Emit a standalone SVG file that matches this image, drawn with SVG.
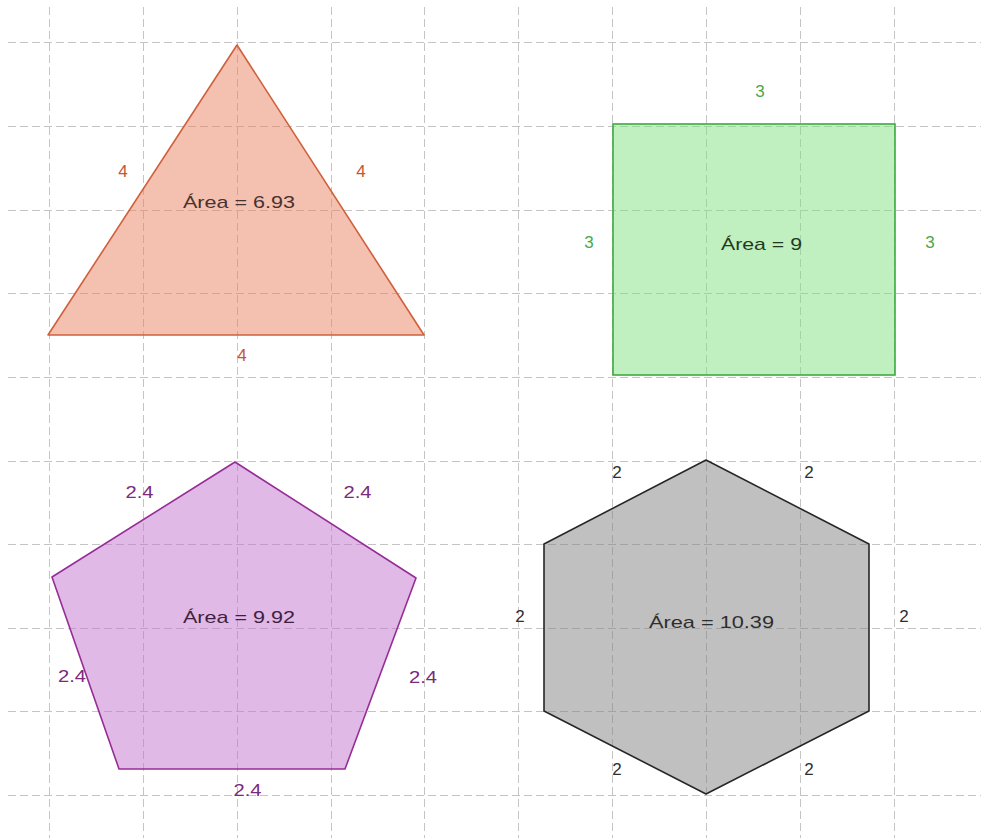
<svg xmlns="http://www.w3.org/2000/svg" width="981" height="838" viewBox="0 0 981 838">
<style>
.grid line{stroke:#c4c4c4;stroke-width:1;stroke-dasharray:8 4}
text{font-family:"Liberation Sans",Arial,sans-serif;font-size:17px;text-anchor:middle}
.tri{fill:#e9815f;fill-opacity:0.5;stroke:#d0603c;stroke-width:1.6;stroke-linejoin:round}
.sq{fill:#81e181;fill-opacity:0.5;stroke:#3faa3f;stroke-width:1.6}
.pen{fill:#c173cd;fill-opacity:0.5;stroke:#962d96;stroke-width:1.6;stroke-linejoin:round}
.hex{fill:#818181;fill-opacity:0.5;stroke:#262626;stroke-width:1.6;stroke-linejoin:round}
.lt{fill:#c8532f}.at{fill:#4a3030}
.ls{fill:#48a848}.as{fill:#1f3a1f}
.lp{fill:#7a2a7a}.ap{fill:#3f1f3f}
.lh{fill:#2e2e2e}.ah{fill:#2e2e2e}
</style>
<rect width="981" height="838" fill="#ffffff"/>
<g id="grid" class="grid">
<line x1="49.5" y1="7" x2="49.5" y2="838"/>
<line x1="143.5" y1="7" x2="143.5" y2="838"/>
<line x1="237.5" y1="7" x2="237.5" y2="838"/>
<line x1="331.5" y1="7" x2="331.5" y2="838"/>
<line x1="424.5" y1="7" x2="424.5" y2="838"/>
<line x1="518.5" y1="7" x2="518.5" y2="838"/>
<line x1="612.5" y1="7" x2="612.5" y2="838"/>
<line x1="706.5" y1="7" x2="706.5" y2="838"/>
<line x1="800.5" y1="7" x2="800.5" y2="838"/>
<line x1="894.5" y1="7" x2="894.5" y2="838"/>
<line x1="8" y1="42.5" x2="981" y2="42.5"/>
<line x1="8" y1="126.5" x2="981" y2="126.5"/>
<line x1="8" y1="210.5" x2="981" y2="210.5"/>
<line x1="8" y1="293.5" x2="981" y2="293.5"/>
<line x1="8" y1="377.5" x2="981" y2="377.5"/>
<line x1="8" y1="461.5" x2="981" y2="461.5"/>
<line x1="8" y1="544.5" x2="981" y2="544.5"/>
<line x1="8" y1="628.5" x2="981" y2="628.5"/>
<line x1="8" y1="711.5" x2="981" y2="711.5"/>
<line x1="8" y1="795.5" x2="981" y2="795.5"/>
</g>
<g id="connectors"></g>
<g id="triangle">
<polygon class="tri" points="237,45 424,335 48,335"/>
<text class="lt" x="123" y="177">4</text>
<text class="lt" x="361" y="177">4</text>
<text class="lt" x="242" y="361">4</text>
<text class="at" x="239" y="208" textLength="112" lengthAdjust="spacingAndGlyphs">Área = 6.93</text>
</g>
<g id="square">
<rect class="sq" x="613" y="124" width="282" height="251"/>
<text class="ls" x="760" y="97">3</text>
<text class="ls" x="589" y="248">3</text>
<text class="ls" x="930" y="248">3</text>
<text class="as" x="761.5" y="250" textLength="81" lengthAdjust="spacingAndGlyphs">Área = 9</text>
</g>
<g id="pentagon">
<polygon class="pen" points="235,462 416,578 345,769 119,769 52,577"/>
<text class="lp" x="139.5" y="498" textLength="28" lengthAdjust="spacingAndGlyphs">2.4</text>
<text class="lp" x="357.5" y="498" textLength="28" lengthAdjust="spacingAndGlyphs">2.4</text>
<text class="lp" x="72" y="682" textLength="28" lengthAdjust="spacingAndGlyphs">2.4</text>
<text class="lp" x="423" y="683" textLength="28" lengthAdjust="spacingAndGlyphs">2.4</text>
<text class="lp" x="247.5" y="796" textLength="28" lengthAdjust="spacingAndGlyphs">2.4</text>
<text class="ap" x="239" y="623" textLength="112" lengthAdjust="spacingAndGlyphs">Área = 9.92</text>
</g>
<g id="hexagon">
<polygon class="hex" points="706,460 869,544 869,711 706,794 544,711 544,544"/>
<text class="lh" x="617" y="478">2</text>
<text class="lh" x="809" y="478">2</text>
<text class="lh" x="520" y="622">2</text>
<text class="lh" x="904" y="622">2</text>
<text class="lh" x="617" y="775">2</text>
<text class="lh" x="809" y="775">2</text>
<text class="ah" x="711.5" y="628" textLength="125" lengthAdjust="spacingAndGlyphs">Área = 10.39</text>
</g>
</svg>
